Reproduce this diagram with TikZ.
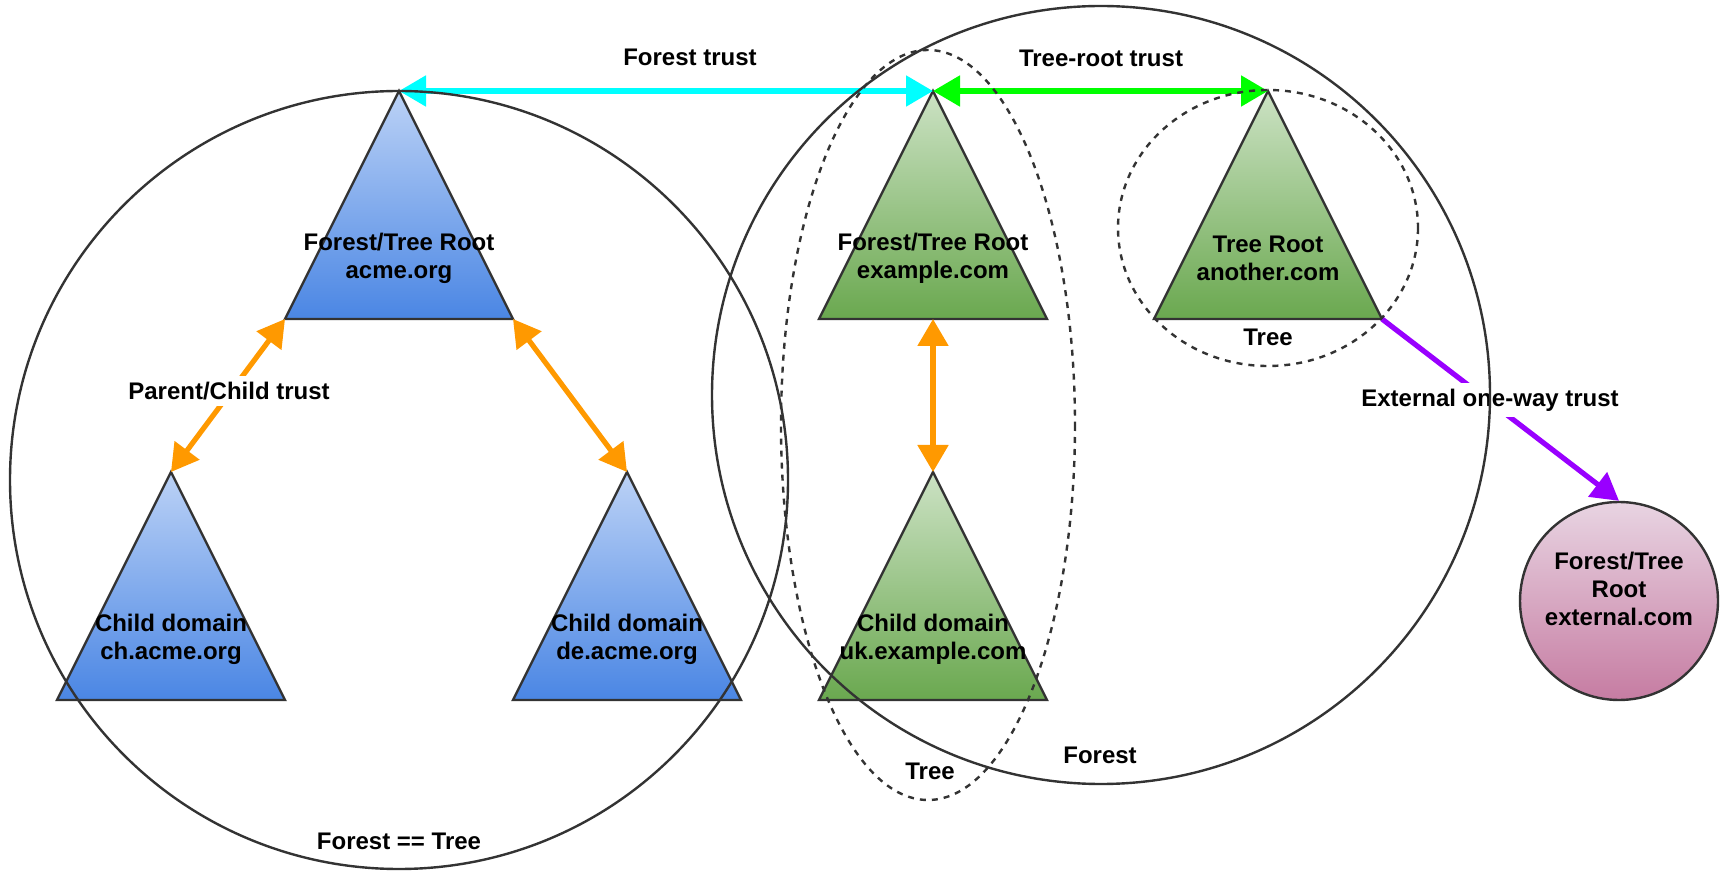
\documentclass[tikz,border=0pt]{standalone}
\usepackage{fontspec}
\setmainfont{Liberation Sans}
\usetikzlibrary{arrows.meta, calc, positioning}

\definecolor{linegray}{HTML}{333333}
\definecolor{bluetop}{HTML}{BCD2F6}
\definecolor{bluebot}{HTML}{4A86E4}
\definecolor{greentop}{HTML}{CCE2C4}
\definecolor{greenbot}{HTML}{6AA84F}
\definecolor{pinktop}{HTML}{E8D4E2}
\definecolor{pinkbot}{HTML}{C67CA2}
\definecolor{trustorange}{HTML}{FF9900}
\definecolor{trustcyan}{HTML}{00FFFF}
\definecolor{trustgreen}{HTML}{00FF00}
\definecolor{trustpurple}{HTML}{9900FF}

\begin{document}
\begin{tikzpicture}[x=0.5pt,y=-0.5pt,
    txt/.style={font=\bfseries\fontsize{12}{14}\selectfont,align=center,inner sep=1pt},
    bluetri/.style={top color=bluetop,bottom color=bluebot,draw=linegray,line width=1.2pt,line join=miter},
    greentri/.style={top color=greentop,bottom color=greenbot,draw=linegray,line width=1.2pt,line join=miter},
    trust/.style={line width=2.6pt,arrows={Triangle[length=13.5pt,width=15pt]-Triangle[length=13.5pt,width=15pt]}},
    oneway/.style={line width=2.6pt,arrows={-Triangle[length=13.5pt,width=15pt]}},
    boundary/.style={draw=linegray,line width=1.2pt},
    treeline/.style={draw=linegray,line width=1.2pt,dash pattern=on 3pt off 3pt}]
    \useasboundingbox (0,0) rectangle (1729,881);

    % apexes of the domain triangles
    \coordinate (acme) at (399,91);
    \coordinate (ch) at (171,472);
    \coordinate (de) at (627,472);
    \coordinate (example) at (933,91);
    \coordinate (uk) at (933,472);
    \coordinate (another) at (1268,91);

    % base corners
    \coordinate (acmebl) at ($(acme)+(-114,228)$);
    \coordinate (acmebr) at ($(acme)+(114,228)$);
    \coordinate (examplebase) at ($(example)+(0,228)$);
    \coordinate (anotherbr) at ($(another)+(114,228)$);

    \draw[bluetri] (acme) -- ++(-114,228) -- ++(228,0) -- cycle;
    \draw[bluetri] (ch) -- ++(-114,228) -- ++(228,0) -- cycle;
    \draw[bluetri] (de) -- ++(-114,228) -- ++(228,0) -- cycle;
    \draw[greentri] (example) -- ++(-114,228) -- ++(228,0) -- cycle;
    \draw[greentri] (uk) -- ++(-114,228) -- ++(228,0) -- cycle;
    \draw[greentri] (another) -- ++(-114,228) -- ++(228,0) -- cycle;

    \node[txt] (acmetext) at (399,258) {Forest/Tree Root\\acme.org};
    \node[txt] (chtext) at (171,639) {Child domain\\ch.acme.org};
    \node[txt] (detext) at (627,639) {Child domain\\de.acme.org};
    \node[txt] (exampletext) at (933,258) {Forest/Tree Root\\example.com};
    \node[txt] (uktext) at (933,639) {Child domain\\uk.example.com};
    \node[txt] (anothertext) at (1268,258) {Tree Root\\another.com};

    % external forest
    \node[circle,draw=linegray,line width=1.2pt,top color=pinktop,bottom color=pinkbot,
        minimum size=99pt,inner sep=0pt] (ext) at (1619,601) {};
    \node[txt] (exttext) at (1619,589) {Forest/Tree\\Root\\external.com};

    % trusts
    \draw[trust,trustcyan] (acme) -- (example);
    \draw[trust,trustgreen] (example) -- (another);
    \draw[trust,trustorange] (acmebl) -- (ch);
    \draw[trust,trustorange] (acmebr) -- (de);
    \draw[trust,trustorange] (examplebase) -- (uk);
    \draw[oneway,trustpurple] (anotherbr) -- (ext.north);

    \node[txt] (foresttrust) at (690,57) {Forest trust};
    \node[txt] (roottrust) at (1101,58) {Tree-root trust};
    \node[txt,fill=white,inner sep=3pt] (pctrust) at (229,391) {Parent/Child trust};
    \node[txt,fill=white,inner sep=3pt] (exttrust) at (1490,400) {External one-way trust};

    % forests and trees
    \draw[boundary] (399,480) circle[radius=389];
    \draw[boundary] (1101,395) circle[radius=389];
    \draw[treeline] (928,425) ellipse[x radius=147,y radius=375];
    \draw[treeline] (1268,228) ellipse[x radius=150,y radius=138];

    \node[txt] (forestlbl) at (1100,755) {Forest};
    \node[txt] (acmelbl) at (399,841) {Forest == Tree};
    \node[txt] (treelbl) at (930,771) {Tree};
    \node[txt] (anotherlbl) at (1268,337) {Tree};
\end{tikzpicture}
\end{document}
